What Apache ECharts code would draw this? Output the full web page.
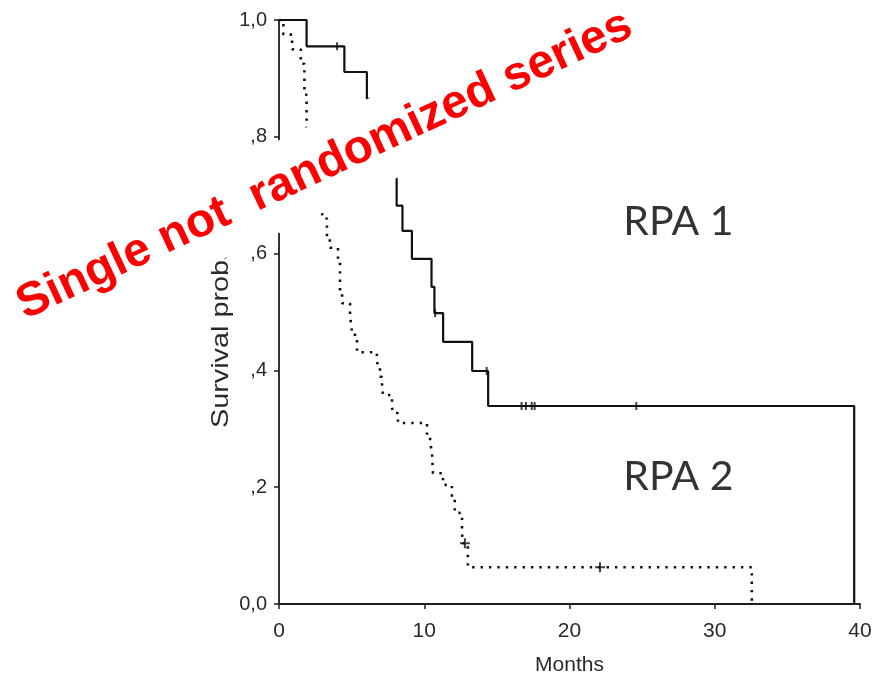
<!DOCTYPE html>
<html><head><meta charset="utf-8">
<script src="https://cdn.jsdelivr.net/npm/echarts@6/dist/echarts.min.js"></script>
<style>html,body{margin:0;padding:0;background:#fff}#c{width:877px;height:681px}</style>
</head><body><div id="c"></div>
<script>
// ---- data ----
const xTicks = [0, 10, 20, 30, 40];
const yTickLabels = ['0,0', ',2', ',4', ',6', ',8', '1,0'];

// RPA 1 (solid): times of events and survival after each event
const rpa1Months = [0, 1.9, 4.5, 6.05, 6.6, 6.9, 7.2, 8.1, 8.5, 9.15, 10.5, 10.7, 11.3, 13.3, 14.4, 39.6];
const rpa1Surv   = [1.0, 0.955, 0.911, 0.865, 0.82, 0.775, 0.73, 0.682, 0.639, 0.591, 0.543, 0.498, 0.449, 0.399, 0.339, 0.0];
const rpa1CensorMonths = [4.0, 10.75, 14.3, 16.7, 17.0, 17.4, 17.6, 24.6];
const rpa1CensorSurv   = [0.955, 0.498, 0.399, 0.339, 0.339, 0.339, 0.339, 0.339];

// RPA 2 (dotted)
const rpa2Months = [0, 0.3, 0.9, 1.5, 1.75, 1.9, 2.2, 2.6, 2.9, 3.0, 3.3, 3.5, 4.06, 4.2, 4.34, 4.89, 5.02, 5.23, 5.37, 6.74, 6.81, 6.95, 7.09, 7.16, 7.78, 7.85, 8.19, 10.19, 10.4, 10.53, 10.6, 11.29, 11.9, 12.1, 12.46, 12.6, 12.66, 13.0, 32.55];
const rpa2Surv   = [1.0, 0.975, 0.95, 0.925, 0.872, 0.81, 0.77, 0.73, 0.69, 0.66, 0.625, 0.61, 0.586, 0.532, 0.515, 0.495, 0.466, 0.457, 0.431, 0.418, 0.406, 0.389, 0.378, 0.358, 0.337, 0.327, 0.31, 0.289, 0.277, 0.26, 0.224, 0.204, 0.183, 0.156, 0.149, 0.122, 0.104, 0.063, 0.0];
const rpa2CensorMonths = [12.8, 22.1];
const rpa2CensorSurv   = [0.104, 0.063];

const groupLabels = ['RPA 1', 'RPA 2'];
const groupLabelAt = [[27.5, 0.655], [27.5, 0.218]];
const watermark = 'Single not  randomized series';
const xName = 'Months';
const yName = 'Survival probability';

const zip = (a, b) => a.map((v, i) => [v, b[i]]);

const chart = echarts.init(document.getElementById('c'));
const cross = 'path://M4,0H6V4H10V6H6V10H4V6H0V4H4Z';
const axisCol = '#1e1e1e';
const labelCol = '#2a2a2a';

chart.setOption({
  animation: false,
  backgroundColor: '#fff',
  grid: { left: 279, right: 17, top: 20, bottom: 77 },
  xAxis: {
    type: 'value', min: 0, max: 40, interval: 10,
    name: xName, nameLocation: 'middle', nameGap: 51,
    nameTextStyle: { fontFamily: 'Liberation Sans', fontSize: 21, color: labelCol },
    axisLine: { show: true, lineStyle: { color: axisCol, width: 1.8 } },
    axisTick: { show: true, length: 5, lineStyle: { color: axisCol, width: 1.5 } },
    axisLabel: { margin: 17, fontFamily: 'Liberation Sans', fontSize: 21, color: labelCol,
      formatter: v => xTicks.includes(v) ? String(v) : '' },
    splitLine: { show: false }
  },
  yAxis: {
    type: 'value', min: 0, max: 1, interval: 0.2, offset: 2,
    axisLine: { show: true, lineStyle: { color: axisCol, width: 1.8 } },
    axisTick: { show: true, length: 5, lineStyle: { color: axisCol, width: 1.5 } },
    axisLabel: { margin: 10, fontFamily: 'Liberation Sans', fontSize: 20, color: labelCol,
      padding: [0, 0, 6, 0],
      formatter: v => yTickLabels[Math.round(v * 5)] },
    splitLine: { show: false }
  },
  series: [
    { type: 'line', step: 'end', symbol: 'none', data: zip(rpa1Months, rpa1Surv),
      lineStyle: { color: '#111', width: 2.2 }, z: 3 },
    { type: 'line', step: 'end', symbol: 'none', data: zip(rpa2Months, rpa2Surv),
      lineStyle: { color: '#111', width: 2.6, type: [2.4, 6] }, z: 2 },
    { type: 'scatter', symbol: 'rect', symbolSize: [2, 8], data: zip(rpa1CensorMonths, rpa1CensorSurv),
      itemStyle: { color: '#111' }, z: 4 },
    { type: 'scatter', symbol: cross, symbolSize: 10, data: zip(rpa2CensorMonths, rpa2CensorSurv),
      itemStyle: { color: '#111' }, z: 4 },
    { type: 'scatter', symbolSize: 0, data: groupLabelAt.map((p, i) => ({ value: p, name: groupLabels[i] })),
      label: { show: true, position: 'inside', formatter: p => p.name,
        fontFamily: 'Lato', fontSize: 41, color: '#000' }, z: 5 }
  ],
  graphic: [
    { type: 'text', x: 221, y: 428, rotation: Math.PI / 2, scaleX: 1.2, z: 50,
      style: { text: yName, font: '24px "Liberation Sans"', fill: labelCol, align: 'left', verticalAlign: 'middle' } },
    { type: 'text', x: 324.7, y: 165.3, rotation: 25 * Math.PI / 180, z: 100,
      style: { text: watermark, font: 'bold 47.5px "Liberation Sans"', fill: '#ff0000',
        align: 'center', verticalAlign: 'middle', lineHeight: 54,
        backgroundColor: '#ffffff', padding: [29, 8, 1, 8] } }
  ]
});
</script></body></html>
